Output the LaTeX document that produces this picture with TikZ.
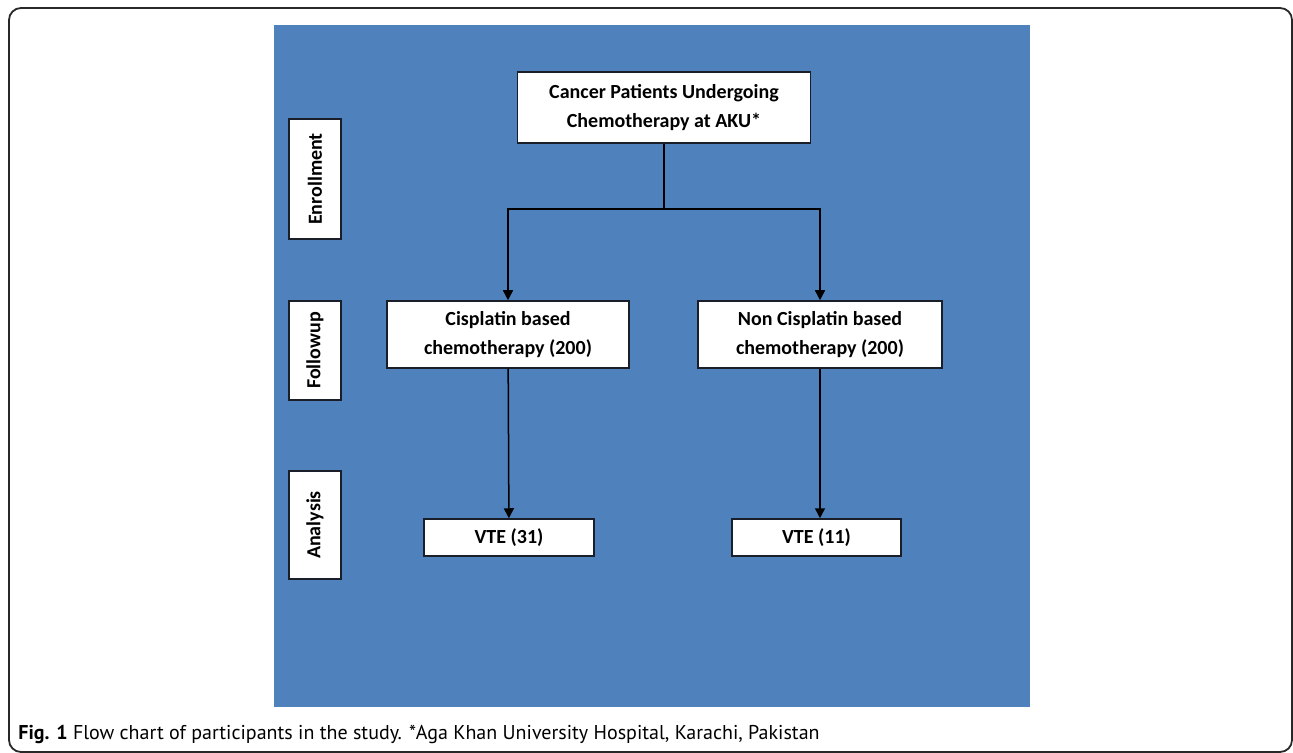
\documentclass[tikz,border=0pt]{standalone}
\usepackage{fontspec}
\setmainfont{Carlito}
\newfontfamily\capfont{PT Sans}
\usetikzlibrary{arrows.meta,positioning}
\definecolor{panelblue}{RGB}{79,129,189}
\definecolor{boxline}{RGB}{25,30,40}
\definecolor{framegray}{RGB}{40,40,40}

\begin{document}
\begin{tikzpicture}[x=0.5pt, y=-0.5pt,
    box/.style={rectangle, draw=boxline, fill=white, line width=0.75pt, inner sep=0pt,
                align=center, font=\fontsize{10}{14.5}\selectfont\bfseries},
    stage/.style={box, rotate=90, minimum height=26pt},
    arrow/.style={-{Triangle[length=5pt, width=5pt]}, line width=0.75pt}
]
\useasboundingbox (0,0) rectangle (1293,753);

% Frame and panel
\draw[framegray, line width=0.9pt, rounded corners=6pt] (9,8) rectangle (1292,752);
\fill[panelblue] (274,25) rectangle (1030,707);

% Stages
\node[stage, minimum width=60pt] (enroll) at (315,179) {Enrollment};
\node[stage, minimum width=49.5pt] (follow) at (315,350.5) {Followup};
\node[stage, minimum width=54pt] (analysis) at (315,525) {Analysis};

% Boxes
\node[box, minimum width=146.5pt, minimum height=35.5pt] (cancer) at (664,107.5)
    {Cancer Patients Undergoing\\Chemotherapy at AKU*};
\node[box, minimum width=121pt, minimum height=33.5pt] (cis) at (508,334.5)
    {Cisplatin based\\chemotherapy (200)};
\node[box, minimum width=122pt, minimum height=33.5pt] (noncis) at (820,334.5)
    {Non Cisplatin based\\chemotherapy (200)};
\node[box, minimum width=85pt, minimum height=18.5pt] (vte1) at (509,537.5) {VTE (31)};
\node[box, minimum width=84.5pt, minimum height=18.5pt] (vte2) at (816.5,537.5) {VTE (11)};

% Connections
\coordinate (split) at (664,209);
\draw[line width=0.75pt] (cancer) -- (split);
\draw[arrow] (split) -| (cis);
\draw[arrow] (split) -| (noncis);
\draw[arrow] (cis) -- (vte1);
\draw[arrow] (noncis.south) -- (noncis.south |- vte2.north);

% Caption
\node[anchor=west, inner sep=0pt, font=\capfont\fontsize{10}{12}\selectfont] (caption) at (18,734)
    {\textbf{Fig. 1} Flow chart of participants in the study. *Aga Khan University Hospital, Karachi, Pakistan};

\end{tikzpicture}
\end{document}
